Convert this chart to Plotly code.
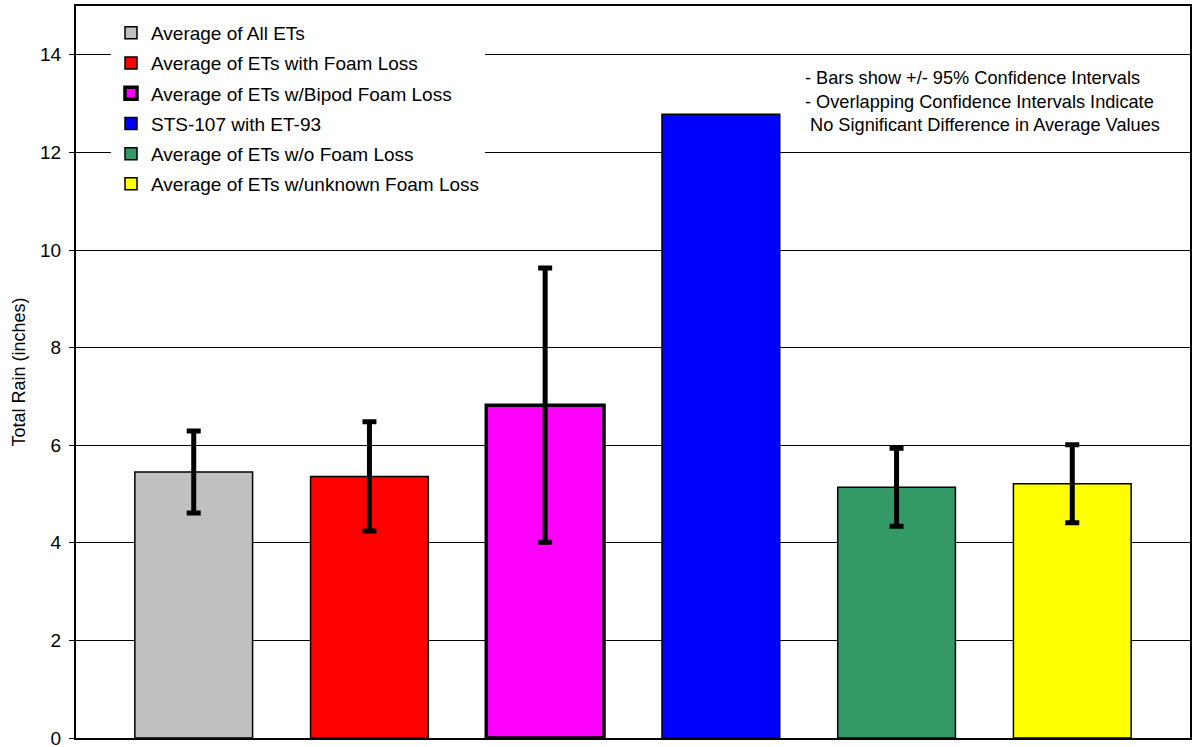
import plotly.graph_objects as go

series = [
    "Average of All ETs",
    "Average of ETs with Foam Loss",
    "Average of ETs w/Bipod Foam Loss",
    "STS-107 with ET-93",
    "Average of ETs w/o Foam Loss",
    "Average of ETs w/unknown Foam Loss",
]
values = [5.45, 5.36, 6.82, 12.78, 5.14, 5.21]
ci95 = [0.84, 1.12, 2.81, None, 0.80, 0.80]
colors = ["#C0C0C0", "#FF0000", "#FF00FF", "#0000FF", "#339966", "#FFFF00"]
outline_widths = [1.5, 1.5, 3.5, 1.5, 1.5, 1.5]
y_ticks = [0, 2, 4, 6, 8, 10, 12, 14]
notes = [
    "- Bars show +/- 95% Confidence Intervals",
    "- Overlapping Confidence Intervals Indicate",
    "  No Significant Difference in Average Values",
]

FONT = "Liberation Sans, Arial, sans-serif"

fig = go.Figure()
for i, name in enumerate(series):
    err = ci95[i]
    fig.add_trace(go.Bar(
        x=[name], y=[values[i]], name=name, width=0.67,
        legendgroup=f"g{i}",
        marker=dict(color=colors[i], line=dict(color="black", width=outline_widths[i])),
        error_y=dict(type="data", array=[err], visible=True, color="black",
                     thickness=5, width=7) if err is not None else dict(visible=False),
    ))

fig.add_annotation(
    xref="paper", yref="paper", x=(803 - 76) / 1114, y=1 - (66 - 6) / 732,
    xanchor="left", yanchor="top", align="left", showarrow=False,
    text="<br>".join(n.replace("  ", "&nbsp;") for n in notes),
    font=dict(family=FONT, size=18.2, color="black"),
)

fig.update_layout(
    width=1193, height=747,
    margin=dict(l=76, r=3, t=6, b=9),
    paper_bgcolor="white", plot_bgcolor="white",
    barmode="overlay",
    showlegend=True,
    legend=dict(
        x=(111 - 76) / 1114, y=1 - (14 - 6) / 732, xanchor="left", yanchor="top",
        bgcolor="white", borderwidth=0,
        font=dict(family=FONT, size=19, color="black"),
        traceorder="grouped", tracegroupgap=2.5,
    ),
    font=dict(family=FONT, color="black"),
)
fig.update_xaxes(
    type="category", range=[-0.67, 5.67], showticklabels=False, ticks="",
    showgrid=False, showline=True, linecolor="black", linewidth=2, mirror=True,
    zeroline=False, automargin=False,
)
fig.update_yaxes(
    range=[0, 15], tickvals=y_ticks, ticks="outside", ticklen=5, tickcolor="black",
    tickfont=dict(family=FONT, size=19, color="black"), ticklabelstandoff=4,
    ticklabeloverflow="allow", automargin=False,
    showgrid=True, gridcolor="black", gridwidth=1,
    showline=True, linecolor="black", linewidth=2, mirror=True, zeroline=False,
    title=dict(text="Total Rain (inches)", font=dict(family=FONT, size=18, color="black"), standoff=10),
)

fig.write_html("out.html", config={"displayModeBar": False},
               post_script="document.body.style.margin='0';")
